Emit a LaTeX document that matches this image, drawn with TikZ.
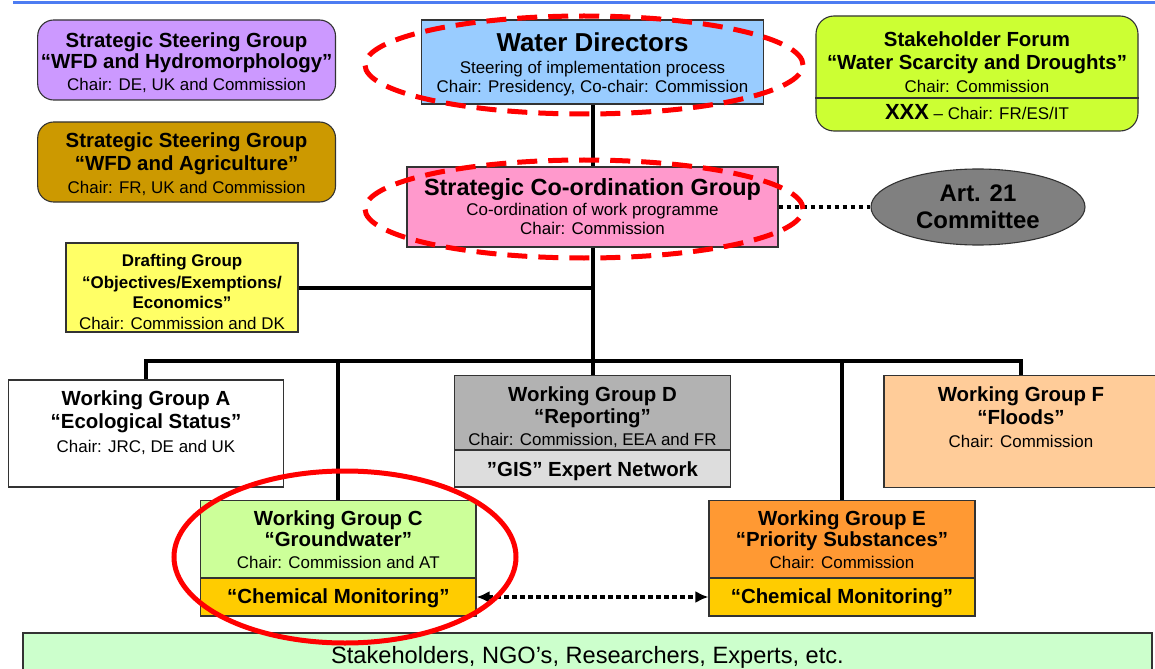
\documentclass[tikz,border=0pt]{standalone}
\usepackage{fontspec}
\setmainfont{Liberation Sans}
\usetikzlibrary{shapes.geometric,arrows.meta,positioning}

\definecolor{ssgviolet}{HTML}{CC99FF}
\definecolor{ssgbrown}{HTML}{CC9900}
\definecolor{wdblue}{HTML}{99CCFF}
\definecolor{sflime}{HTML}{CCFF33}
\definecolor{scgpink}{HTML}{FF99CC}
\definecolor{artgrey}{HTML}{808080}
\definecolor{dgyellow}{HTML}{FFFF66}
\definecolor{wgdgrey}{HTML}{B2B2B2}
\definecolor{gisgrey}{HTML}{DDDDDD}
\definecolor{wgfpeach}{HTML}{FFCC99}
\definecolor{wgcgreen}{HTML}{CCFF99}
\definecolor{wgeorange}{HTML}{FF9933}
\definecolor{chemgold}{HTML}{FFCC00}
\definecolor{sthmint}{HTML}{CCFFCC}
\definecolor{ruleblue}{HTML}{4D7CF2}

\newcommand{\hdf}{\fontsize{20.5}{23.5}\selectfont\bfseries}

\begin{document}
\begin{tikzpicture}[x=1bp,y=-1bp,
    box/.style={draw=black!80,line width=1.1bp,inner sep=0pt,align=center,
      font=\fontsize{17}{23.5}\selectfont},
    wh/.style 2 args={minimum width=#1bp,minimum height=#2bp},
    texttop/.style={text height=#1bp},
    txt/.style={inner sep=0pt,align=center,font=\fontsize{17}{23.5}\selectfont},
    link/.style={line width=4bp},
    dotline/.style={line width=4bp,dash pattern=on 4.5bp off 3.5bp},
    ring/.style={red,line width=5bp}]
              \useasboundingbox (0,0) rectangle (1155,669);
              %\draw[help lines,step=50](0,0) grid (1155,669);
              \draw[ruleblue,line width=3bp] (13,2.5) -- (1155,2.5);

              \draw (186.6,60) node[box,wh={297.8}{80},fill=ssgviolet,rounded corners=16bp,texttop=63,font=\fontsize{17}{21.5}\selectfont] (ssgh)
                {{\hdf Strategic Steering Group}\\{\hdf “WFD and Hydromorphology”}\\Chair: DE, UK and Commission};
              \draw (186.6,162) node[box,wh={297.8}{80},fill=ssgbrown,rounded corners=16bp,texttop=66] (ssga)
                {{\hdf Strategic Steering Group}\\{\hdf “WFD and Agriculture”}\\Chair: FR, UK and Commission};
              \draw (592.5,62) node[box,wh={342}{84},fill=wdblue,texttop=65,font=\fontsize{17}{19}\selectfont] (wd)
                {{\fontsize{26}{28}\selectfont\bfseries Water Directors}\\[3bp]Steering of implementation process\\Chair: Presidency, Co-chair: Commission};
              \draw (977,73.5) node[box,wh={322}{115},fill=sflime,rounded corners=18bp] (sf) {};
              \draw (977,62) node[txt,font=\fontsize{17}{23}\selectfont] (sftop)
                {{\hdf Stakeholder Forum}\\{\hdf “Water Scarcity and Droughts”}\\Chair: Commission};
              \draw (977,112) node[txt] (sfbot) {{\fontsize{22}{24}\selectfont\bfseries XXX} – Chair: FR/ES/IT};
              \draw[draw=black!80,line width=1.1bp] (sf.west |- 0,98) -- (sf.east |- 0,98);

              \draw (592.5,207) node[box,wh={371}{80},fill=scgpink,font=\fontsize{17}{19.5}\selectfont] (scg)
                {{\fontsize{23.5}{26}\selectfont\bfseries Strategic Co-ordination Group}\\Co-ordination of work programme\\Chair: Commission};
              \draw (978,207) node[ellipse,draw=black!80,line width=1.1bp,fill=artgrey,wh={214}{76},inner sep=0pt,align=center,
                font=\fontsize{24}{27.5}\selectfont\bfseries] (art) {Art. 21\\Committee};
              \draw (182,287.5) node[box,wh={232}{89},fill=dgyellow,texttop=84,font=\fontsize{17}{21}\selectfont] (dg)
                {{\bfseries Drafting Group}\\[1bp]{\bfseries “Objectives/Exemptions/}\\[-1bp]{\bfseries Economics”}\\Chair: Commission and DK};

              \draw (146,433.5) node[box,wh={275.5}{107},fill=white] (wga) {};
              \node[txt,below=11bp of wga.north] (wgatxt) {{\hdf Working Group A}\\{\hdf “Ecological Status”}\\Chair: JRC, DE and UK};
              \draw (592.5,412.9) node[box,wh={276}{74.5},fill=wgdgrey,texttop=68,font=\fontsize{17}{22}\selectfont] (wgd)
                {{\hdf Working Group D}\\{\hdf “Reporting”}\\Chair: Commission, EEA and FR};
              \draw (592.5,468.5) node[box,wh={276}{37},fill=gisgrey,texttop=20,font=\hdf] (gis) {\char34 GIS” Expert Network};
              \draw (1021,431.4) node[box,wh={274}{111.5},fill=wgfpeach] (wgf) {};
              \node[txt,below=11bp of wgf.north] (wgftxt) {{\hdf Working Group F}\\{\hdf “Floods”}\\Chair: Commission};

              \draw (338.3,539.3) node[box,wh={275.3}{77.3},fill=wgcgreen,font=\fontsize{17}{21.5}\selectfont] (wgc)
                {{\hdf Working Group C}\\{\hdf “Groundwater”}\\Chair: Commission and AT};
              \draw (338.3,597) node[box,wh={275.3}{38},fill=chemgold,texttop=18,font=\hdf] (cmc) {“Chemical Monitoring”};
              \draw (842,539.3) node[box,wh={266}{77.3},fill=wgeorange,font=\fontsize{17}{21.5}\selectfont] (wge)
                {{\hdf Working Group E}\\{\hdf “Priority Substances”}\\Chair: Commission};
              \draw (842,597) node[box,wh={266}{38},fill=chemgold,texttop=18,font=\hdf] (cme) {“Chemical Monitoring”};

              \draw (587.5,655) node[box,wh={1129}{44},fill=sthmint,texttop=22.5,font=\fontsize{23.7}{26}\selectfont] (sth)
                {Stakeholders, NGO’s, Researchers, Experts, etc.};

              \coordinate (bar) at (592.5,360.5);
              \draw[link] (wd.south)--(scg.north);
              \draw[link] (scg.south)--(wgd.north);
              \draw[link] (dg.east)--(dg.east -| scg.south);
              \draw[link] (wga.north) |- (bar) -| (wgf.north);
              \draw[link] (wgc.north)--(wgc.north |- bar);
              \draw[link] (wge.north)--(wge.north |- bar);

              \draw[dotline] (scg.east)--(art.west);
              \draw[dotline,{Latex[length=13bp,width=12bp]}-{Latex[length=13bp,width=12bp]}] (cmc.east)--(cme.west);

              \draw[ring,dash pattern=on 20bp off 11bp] (584,65) ellipse [x radius=219bp,y radius=49bp];
              \draw[ring,dash pattern=on 20bp off 11bp] (584,209) ellipse [x radius=219bp,y radius=49bp];
              \draw[ring] (345,557) ellipse [x radius=171bp,y radius=86bp];
            \end{tikzpicture}
\end{document}
